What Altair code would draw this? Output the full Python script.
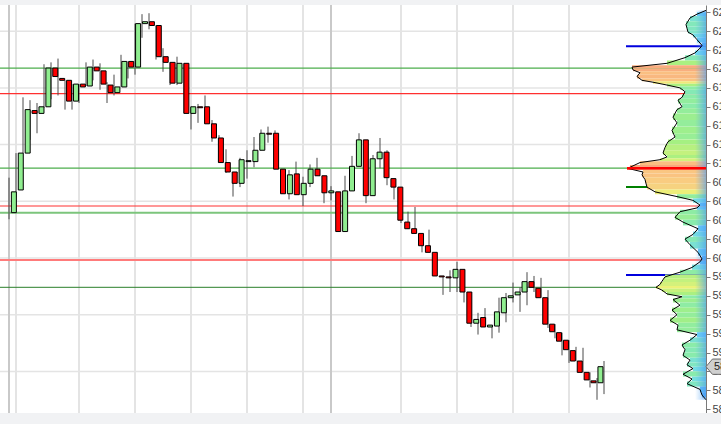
import altair as alt
import pandas as pd

# ---------------- data ----------------
opens = [6048, 6072, 6111, 6156, 6153, 6160, 6201, 6190, 6188, 6166,
         6184, 6182, 6202, 6198, 6183, 6175, 6181, 6208, 6202, 6248,
         6250, 6246, 6213, 6207, 6185, 6206, 6153, 6160, 6160, 6142,
         6127, 6101, 6091, 6079, 6102, 6102, 6114, 6132, 6132, 6094,
         6068, 6089, 6067, 6079, 6094, 6087, 6069, 6070, 6028, 6071,
         6097, 6125, 6066, 6105, 6112, 6084, 6075, 6038, 6031, 6026,
         6013, 6006, 5981, 5980, 5979, 5988, 5964, 5931, 5937, 5927,
         5928, 5942, 5958, 5961, 5964, 5975, 5968, 5958, 5930, 5921,
         5913, 5902, 5891, 5879, 5870, 5868]
closes = [6070, 6111, 6157, 6153, 6160, 6201, 6192, 6188, 6166, 6184,
          6181, 6202, 6198, 6184, 6175, 6181, 6208, 6202, 6248, 6250,
          6246, 6213, 6207, 6185, 6206, 6153, 6160, 6159, 6142, 6127,
          6101, 6091, 6079, 6104, 6103, 6114, 6132, 6131, 6094, 6068,
          6088, 6067, 6079, 6094, 6087, 6069, 6071, 6028, 6071, 6097,
          6125, 6066, 6105, 6112, 6085, 6075, 6040, 6031, 6026, 6013,
          6006, 5981, 5980, 5979, 5988, 5964, 5931, 5935, 5927, 5929,
          5943, 5958, 5960, 5964, 5975, 5969, 5958, 5930, 5922, 5912,
          5903, 5891, 5879, 5871, 5868, 5885]
highs = [6085, 6111, 6170, 6167, 6164, 6205, 6207, 6211, 6188, 6184,
         6184, 6207, 6210, 6206, 6186, 6194, 6215, 6208, 6248, 6258,
         6259, 6246, 6222, 6207, 6213, 6206, 6160, 6163, 6172, 6146,
         6130, 6115, 6091, 6106, 6114, 6128, 6136, 6139, 6135, 6094,
         6093, 6102, 6086, 6099, 6106, 6087, 6076, 6070, 6087, 6108,
         6132, 6125, 6109, 6127, 6114, 6084, 6075, 6049, 6054, 6026,
         6030, 6006, 5981, 5987, 5996, 5988, 5964, 5942, 5947, 5929,
         5958, 5963, 5974, 5969, 5985, 5981, 5979, 5966, 5930, 5921,
         5913, 5906, 5905, 5879, 5873, 5891]
lows = [6041, 6064, 6111, 6125, 6132, 6159, 6168, 6172, 6157, 6157,
        6164, 6182, 6188, 6178, 6164, 6172, 6181, 6190, 6194, 6233,
        6242, 6210, 6197, 6183, 6183, 6153, 6136, 6143, 6142, 6123,
        6101, 6090, 6065, 6075, 6084, 6096, 6114, 6122, 6094, 6068,
        6062, 6067, 6055, 6075, 6087, 6058, 6061, 6028, 6028, 6071,
        6097, 6058, 6066, 6095, 6077, 6062, 6037, 6031, 6026, 6006,
        6006, 5981, 5961, 5964, 5964, 5953, 5927, 5919, 5927, 5915,
        5921, 5932, 5953, 5943, 5950, 5964, 5958, 5926, 5915, 5897,
        5889, 5891, 5879, 5863, 5850, 5856]

# volume profile (price level, volume)
prof_price = [6262, 6258, 6254, 6247, 6243, 6239, 6236, 6231, 6225, 6222,
              6217, 6212, 6206, 6202, 6199, 6196, 6192, 6188, 6186, 6183,
              6180, 6176, 6170, 6167, 6160, 6157, 6149, 6143, 6135, 6128,
              6123, 6117, 6111, 6107, 6104, 6101, 6096, 6095, 6091, 6088,
              6083, 6075, 6070, 6065, 6061, 6056, 6053, 6049, 6043, 6038,
              6031, 6025, 6020, 6014, 6006, 5999, 5996, 5990, 5985, 5980,
              5977, 5972, 5969, 5966, 5962, 5959, 5956, 5950, 5945, 5940,
              5934, 5929, 5924, 5919, 5913, 5908, 5903, 5897, 5892, 5887,
              5883, 5877, 5872, 5867, 5861, 5855, 5850]
prof_vol = [0, 9, 16, 20, 19, 18, 13, 9, 4, 6,
            11, 21, 39, 74, 73, 66, 69, 64, 53, 39,
            26, 21, 24, 28, 24, 29, 33, 29, 34, 31,
            38, 41, 43, 39, 46, 66, 76, 79, 63, 64,
            61, 59, 51, 29, 13, 6, 9, 26, 31, 23,
            8, 13, 21, 16, 8, 4, 6, 14, 26, 41,
            43, 46, 50, 44, 39, 24, 33, 26, 34, 29,
            36, 28, 29, 9, 16, 24, 21, 23, 16, 19,
            13, 23, 14, 19, 6, 4, 0]

grid_prices = [6240, 6180, 6120, 6060, 6000, 5940, 5880]
grid_idx = [1, 10, 18, 26, 34, 42, 56, 64, 72, 80]
session_idx = [0, 46]
tick_values = list(range(5840, 6261, 20))

green_levels = [6201, 6095]
red_levels = [6174, 6055]
wide_green_level = [6048]
wide_red_level = [5998]
dark_green_level = [5969]
blue_short = [6224, 5982]
green_short = [6075]
poc_level = [6095]

# ---------------- scales ----------------
W, H = 706, 408
xscale = alt.Scale(domain=[-9 / 7, 697 / 7], nice=False, zero=False)
yscale = alt.Scale(domain=[5836.0, 6267.7], nice=False, zero=False)
pscale = alt.Scale(domain=[0, W], reverse=True, nice=False, zero=False)
yaxis = alt.Axis(orient="right", values=tick_values, grid=False, title=None,
                 domainColor="#7a7a7a", tickColor="#7a7a7a", tickSize=4,
                 labelColor="#444444", labelFont="Liberation Sans",
                 labelFontSize=11, labelPadding=2, format="d",
                 labelOverlap=False, labelBound=False, labelFlush=False)


def Y(field):
    return alt.Y(field, type="quantitative", scale=yscale, axis=yaxis)


n = len(opens)
candles = pd.DataFrame({"i": list(range(n)), "open": opens, "close": closes,
                        "high": highs, "low": lows})
candles["dir"] = ["up" if c >= o else "down" for o, c in zip(opens, closes)]


def vol_color(v):
    anchors = [(0, (70, 150, 250)), (10, (110, 215, 245)), (22, (135, 235, 175)),
               (38, (165, 240, 130)), (50, (236, 242, 120)), (62, (250, 200, 130)),
               (79, (248, 160, 125))]
    for (v0, c0), (v1, c1) in zip(anchors[:-1], anchors[1:]):
        if v <= v1:
            t = (v - v0) / (v1 - v0)
            c = [round(a + (b - a) * t) for a, b in zip(c0, c1)]
            return "#%02x%02x%02x" % tuple(c)
    return "#%02x%02x%02x" % anchors[-1][1]


# row bands for the profile fill: each level spans halfway to its neighbours
tops, bots = [], []
for k, p in enumerate(prof_price):
    tops.append(p if k == 0 else (prof_price[k - 1] + p) / 2)
    bots.append(p if k == len(prof_price) - 1 else (prof_price[k + 1] + p) / 2)
profile = pd.DataFrame({"price": prof_price, "vol": prof_vol, "top": tops, "bot": bots,
                        "col": [vol_color(v) for v in prof_vol]})

one = pd.DataFrame({"a": [0]})
span = pd.DataFrame({"top": [prof_price[0]], "bot": [prof_price[-1]]})

# ---------------- layers ----------------
hgrid = alt.Chart(pd.DataFrame({"p": grid_prices})).mark_rule(
    color="#e4e4e4", strokeWidth=1.5).encode(y=Y("p"))
vgrid = alt.Chart(pd.DataFrame({"g": grid_idx})).mark_rule(
    color="#e4e4e4", strokeWidth=2).encode(x=alt.X("g:Q", scale=xscale, axis=None))
vsess = alt.Chart(pd.DataFrame({"g": session_idx})).mark_rule(
    color="#c9c9c9", strokeWidth=2).encode(x=alt.X("g:Q", scale=xscale, axis=None))


def level(values, color, width):
    return alt.Chart(pd.DataFrame({"p": values})).mark_rule(
        color=color, strokeWidth=width).encode(y=Y("p"))


def short_level(values, color, width, x0=626, x1=706):
    return alt.Chart(pd.DataFrame({"p": values})).mark_rule(
        color=color, strokeWidth=width).encode(
        y=Y("p"), x=alt.value(x0), x2=alt.value(x1))


levels = [
    level(green_levels, "#4cae4c", 1.3),
    level(red_levels, "#ff3030", 1.2),
    level(wide_green_level, "#7cc57c", 2),
    level(wide_red_level, "#ff7b7b", 2),
    level(dark_green_level, "#2a7f2a", 1),
    short_level(blue_short, "#0000dd", 2),
    short_level(green_short, "#008000", 2),
]

wicks = alt.Chart(candles).mark_rule(color="#4a4a4a", strokeWidth=1).encode(
    x=alt.X("i:Q", scale=xscale, axis=None), y=Y("low"), y2="high")
bodies = alt.Chart(candles).mark_bar(size=5, stroke="black", strokeWidth=1).encode(
    x=alt.X("i:Q", scale=xscale, axis=None), y=Y("open"), y2="close",
    color=alt.Color("dir:N", scale=alt.Scale(domain=["up", "down"],
                                             range=["#90ee90", "#ff0000"]), legend=None))

prof_fill = alt.Chart(profile).mark_rect(strokeWidth=0, opacity=1).encode(
    x=alt.X("vol:Q", scale=pscale, axis=None), x2=alt.datum(0),
    y=Y("top"), y2="bot", color=alt.Color("col:N", scale=None))
edge_strip = alt.Chart(span).mark_rect(
    color={"gradient": "linear", "x1": 0, "x2": 1, "y1": 0, "y2": 0,
           "stops": [{"offset": 0, "color": "rgba(90,170,245,0)"},
                     {"offset": 1, "color": "rgba(70,150,240,0.6)"}]}).encode(
    x=alt.value(695), x2=alt.value(706), y=Y("top"), y2="bot")
prof_line = alt.Chart(profile).mark_line(orient="horizontal", color="black",
                                         strokeWidth=1).encode(
    x=alt.X("vol:Q", scale=pscale, axis=None), y=Y("price"), order="price:Q")
poc = short_level(poc_level, "#ff0000", 2.5, 627, 706)

top_band = alt.Chart(one).mark_rect(color="#f1f2f4").encode(
    x=alt.value(0), x2=alt.value(721), y=alt.value(-5), y2=alt.value(0))
bottom_band = alt.Chart(one).mark_rect(color="#f1f2f4").encode(
    x=alt.value(0), x2=alt.value(721), y=alt.value(H), y2=alt.value(H + 11))

last = pd.DataFrame({"p": [closes[-1]], "t": [str(closes[-1])]})
price_tag = alt.Chart(last).mark_point(
    shape="M-1,0L-0.62,-0.45L1,-0.45L1,0.45L-0.62,0.45Z", filled=True,
    fill="#cfcfcf", stroke="#6a6a6a", strokeWidth=1, opacity=1, size=1156).encode(
    x=alt.value(723), y=Y("p"))
price_txt = alt.Chart(last).mark_text(
    align="left", baseline="middle", font="Liberation Sans", fontSize=11,
    color="#222222").encode(x=alt.value(714), y=Y("p"), text="t:N")

chart = alt.layer(
    hgrid, vgrid, vsess, *levels, wicks, bodies, prof_fill, edge_strip, prof_line, poc,
    top_band, bottom_band, price_tag, price_txt
).resolve_scale(x="independent").properties(
    width=W, height=H,
    autosize=alt.AutoSizeParams(type="none"),
    padding={"left": 0, "top": 5, "right": 15, "bottom": 11},
    background="white",
).configure_view(stroke=None)

chart.save("out.html", embed_options={"renderer": "svg", "actions": False})
